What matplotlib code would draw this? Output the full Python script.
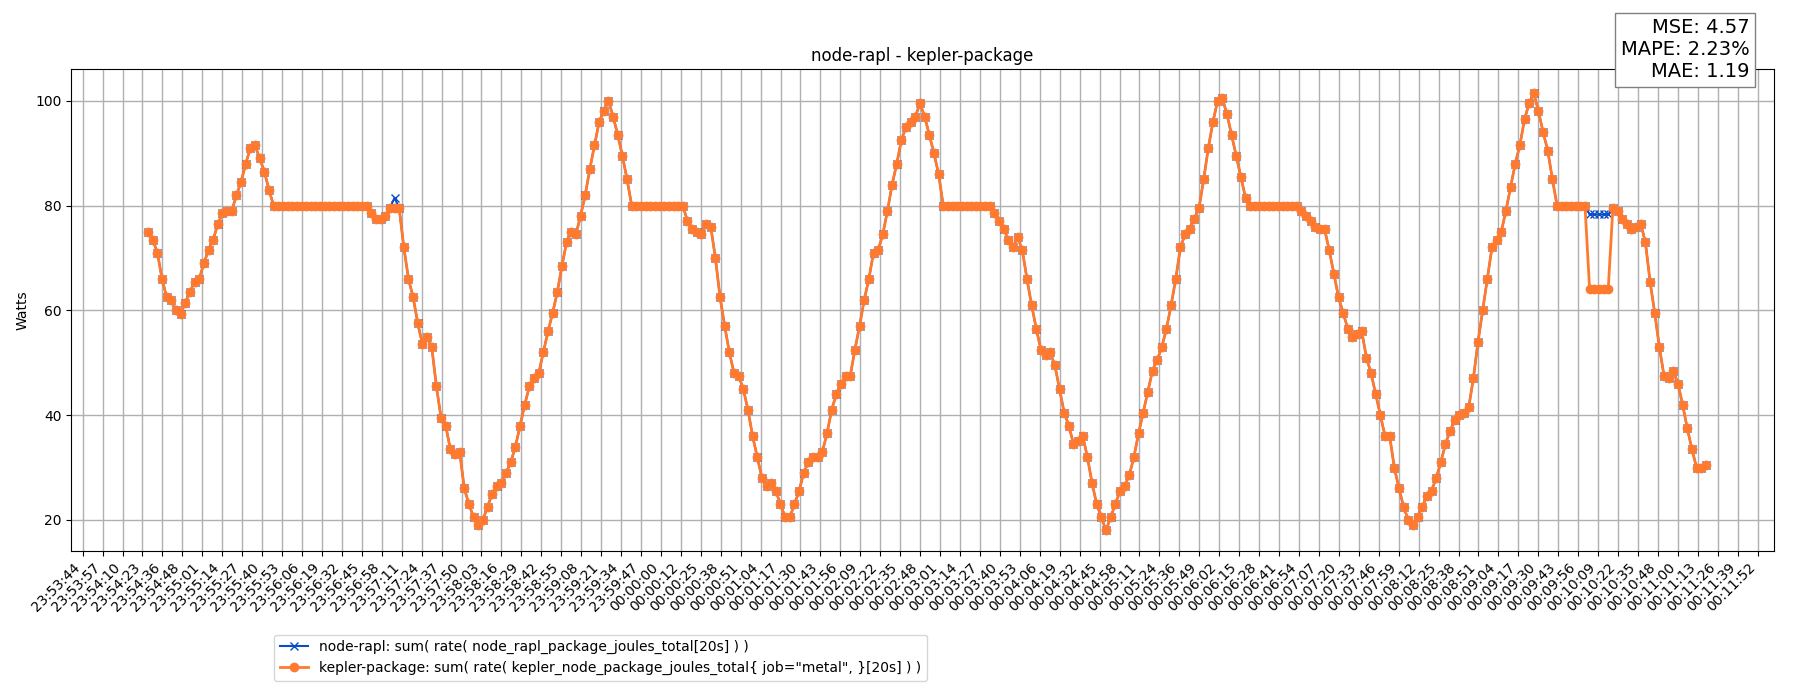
import matplotlib
matplotlib.use("Agg")
import matplotlib.pyplot as plt

tick_labels = [
    "23:53:44", "23:53:57", "23:54:10", "23:54:23", "23:54:36", "23:54:48", "23:55:01", "23:55:14",
    "23:55:27", "23:55:40", "23:55:53", "23:56:06", "23:56:19", "23:56:32", "23:56:45", "23:56:58",
    "23:57:11", "23:57:24", "23:57:37", "23:57:50", "23:58:03", "23:58:16", "23:58:29", "23:58:42",
    "23:58:55", "23:59:08", "23:59:21", "23:59:34", "23:59:47", "00:00:00", "00:00:12", "00:00:25",
    "00:00:38", "00:00:51", "00:01:04", "00:01:17", "00:01:30", "00:01:43", "00:01:56", "00:02:09",
    "00:02:22", "00:02:35", "00:02:48", "00:03:01", "00:03:14", "00:03:27", "00:03:40", "00:03:53",
    "00:04:06", "00:04:19", "00:04:32", "00:04:45", "00:04:58", "00:05:11", "00:05:24", "00:05:36",
    "00:05:49", "00:06:02", "00:06:15", "00:06:28", "00:06:41", "00:06:54", "00:07:07", "00:07:20",
    "00:07:33", "00:07:46", "00:07:59", "00:08:12", "00:08:25", "00:08:38", "00:08:51", "00:09:04",
    "00:09:17", "00:09:30", "00:09:43", "00:09:56", "00:10:09", "00:10:22", "00:10:35", "00:10:48",
    "00:11:00", "00:11:13", "00:11:26", "00:11:39", "00:11:52",
]

# watts per sample (segments shared by both series)
seg_a = [75, 73.5, 71, 66, 62.5, 62, 60, 59.3, 61.5, 63.5, 65.5, 66, 69, 71.5, 73.5, 76.5,
         78.5, 79, 79, 82, 84.5, 88, 91, 91.5, 89, 86.5, 83]
plateau_a = [80] * 21
seg_b_head_kepler = [78.5, 77.5, 77.5, 78, 79.5, 79.5]
seg_b_head_rapl = [78.5, 77.5, 77.5, 78, 79.5, 81.5]
seg_b = [79.5, 72, 66, 62.5, 57.5, 53.5, 55, 53, 45.5, 39.5, 38, 33.5, 32.5, 33, 26, 23,
         20.5, 19, 20, 22.5, 25, 26.5, 27, 29, 31, 34, 38, 42, 45.5, 47, 48, 52, 56, 59.5,
         63.5, 68.5, 73, 75, 74.5, 78, 82, 87, 91.5, 96, 98, 100, 97, 93.5, 89.5, 85]
plateau_b = [80] * 12
seg_c = [77, 75.5, 75, 74.5, 76.5, 76, 70, 62.5, 57, 52, 48, 47.5, 45, 41, 36, 32, 28,
         26.5, 27, 25.5, 23, 20.5, 20.5, 23, 25.5, 29, 31, 32, 32, 33, 36.5, 41, 44, 46,
         47.5, 47.5, 52.5, 57, 62, 66, 71, 71.5, 74.5, 79, 84, 88, 92.5, 95, 96, 97, 99.5,
         97, 93.5, 90, 86]
plateau_c = [80] * 11
seg_d = [78.5, 77, 75.5, 73.5, 72, 74, 71.5, 66, 61, 56.5, 52.5, 51.5, 52, 49.5, 45, 40.5,
         38, 34.5, 35, 36, 32, 27, 23, 20.5, 18, 20.5, 23, 25.5, 26.5, 28.5, 32, 36.5, 40.5,
         44.5, 48.5, 50.5, 53, 56.5, 61, 66, 72, 74.5, 75.5, 77.5, 79.5, 85, 91, 96, 100,
         100.5, 97.5, 93.5, 89.5, 85.5, 81.5]
plateau_d = [80] * 11
seg_e = [79, 78, 77, 76, 75.5, 75.5, 71.5, 67, 62.5, 59.5, 56.5, 55, 55.5, 56, 51, 48, 44,
         40, 36, 36, 30, 26, 22.5, 20, 19, 20.5, 22.5, 24.5, 25.5, 28, 31, 34.5, 37, 39, 40,
         40.5, 41.5, 47, 54, 60, 66, 72, 73.5, 75, 79, 83.5, 88, 91.5, 96.5, 99.5, 101.5, 98,
         94, 90.5, 85]
plateau_e = [80] * 7
dip_kepler = [64, 64, 64, 64, 64]
dip_rapl = [78.3, 78.3, 78.3, 78.3, 78.3]
seg_f = [79.5, 79, 77.5, 76.5, 75.5, 76, 76.5, 73, 65.5, 59.5, 53, 47.5, 47, 48.5, 46, 42,
         37.5, 33.5, 30, 30, 30.5]

kepler = (seg_a + plateau_a + seg_b_head_kepler + seg_b + plateau_b + seg_c + plateau_c
          + seg_d + plateau_d + seg_e + plateau_e + dip_kepler + seg_f)
rapl = (seg_a + plateau_a + seg_b_head_rapl + seg_b + plateau_b + seg_c + plateau_c
        + seg_d + plateau_d + seg_e + plateau_e + dip_rapl + seg_f)

# reference was measured on a 1568x610 view
W, H = 1568, 610
n = len(kepler)
sp = (1486 - 129) / (n - 1)
x = [i for i in range(n)]
tick_pos = [(72 + 17.37 * k - 129) / sp for k in range(len(tick_labels))]

fig = plt.figure(figsize=(18, 7), dpi=100)
ax = fig.add_axes([62 / W, 1 - 480 / H, (1545 - 62) / W, 420 / H])

ax.plot(x, rapl, color="#0b4cc4", marker="x", markersize=6, linewidth=1.5,
        label="node-rapl: sum( rate( node_rapl_package_joules_total[20s] ) )")
ax.plot(x, kepler, color="#ff7a2f", marker="o", markersize=6, linewidth=2,
        label='kepler-package: sum( rate( kepler_node_package_joules_total{ job="metal", }[20s] ) )')

ax.set_xlim((62 - 129) / sp, (1545 - 129) / sp)
ax.set_ylim(14.1, 106.1)
ax.set_xticks(tick_pos)
ax.set_xticklabels(tick_labels, rotation=45, ha="right", fontsize=10)
ax.grid(True, color="#b0b0b0", linewidth=1)
ax.set_axisbelow(True)
ax.set_ylabel("Watts", fontsize=10)
ax.set_title("node-rapl - kepler-package", fontsize=12)

fig.legend(loc="upper left", bbox_to_anchor=(233 / W, 1 - 547 / H), fontsize=10)
fig.text(1524 / W, 1 - 16 / H, "MSE: 4.57\nMAPE: 2.23%\nMAE: 1.19", ha="right", va="top",
         fontsize=14, bbox=dict(boxstyle="square,pad=0.3", facecolor="white", edgecolor="#808080"))

fig.savefig("out.png")
